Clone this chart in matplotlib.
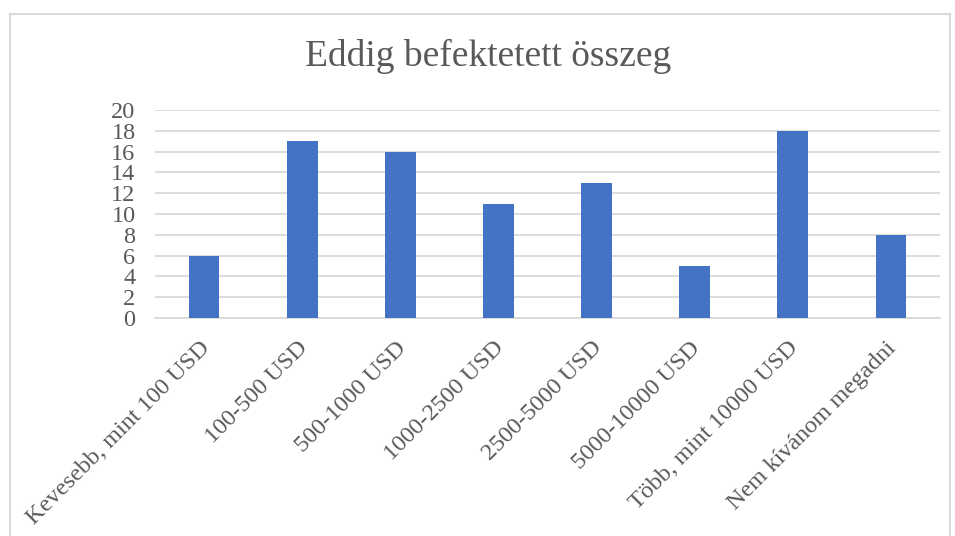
import matplotlib.pyplot as plt
import matplotlib.transforms as mtransforms
from matplotlib.patches import Rectangle

# Adatok
kategoriak = ["Kevesebb, mint 100 USD", "100-500 USD", "500-1000 USD", "1000-2500 USD",
              "2500-5000 USD", "5000-10000 USD", "Több, mint 10000 USD", "Nem kívánom megadni"]
ertekek = [6, 17, 16, 11, 13, 5, 18, 8]

W, H = 955, 536
plt.rcParams['font.family'] = ['Liberation Serif', 'DejaVu Serif']
szurke = '#595959'
racs = '#d9d9d9'

fig = plt.figure(figsize=(W / 100, H / 100), dpi=100)
ax = fig.add_axes([155 / W, 1 - 318 / H, 785 / W, 208 / H])

x = range(len(kategoriak))
ax.bar(x, ertekek, width=0.313, color='#4472c4', zorder=3)

ax.set_xlim(-0.5, len(kategoriak) - 0.5)
ax.set_ylim(0, 20)
ax.set_yticks(range(0, 21, 2))
ax.yaxis.grid(True, color=racs, linewidth=1.3, zorder=0)
for s in ['top', 'right', 'left']:
    ax.spines[s].set_visible(False)
ax.spines['bottom'].set_color(racs)
ax.spines['bottom'].set_linewidth(1.3)
ax.tick_params(axis='both', length=0, labelsize=17.5, labelcolor=szurke)
ax.tick_params(axis='y', pad=14)
ax.set_xticks(list(x))
ax.set_xticklabels(kategoriak, rotation=45, ha='right', rotation_mode='anchor')
ax.tick_params(axis='x', pad=14)

# a feliratokat kicsit balra toljuk, ahogy az Excelben
eltolas = mtransforms.ScaledTranslation(-5 / 100, 0, fig.dpi_scale_trans)
for lbl in ax.get_xticklabels():
    lbl.set_transform(lbl.get_transform() + eltolas)

fig.text(488 / W, 1 - 56 / H, 'Eddig befektetett összeg', ha='center', va='center',
         fontsize=27, color=szurke)

# keret
fig.patches.append(Rectangle((10 / W, -0.05), 940 / W, 1.05 - 14 / H, transform=fig.transFigure,
                             fill=False, edgecolor=racs, linewidth=1.5))

fig.savefig('out.png', dpi=100)
